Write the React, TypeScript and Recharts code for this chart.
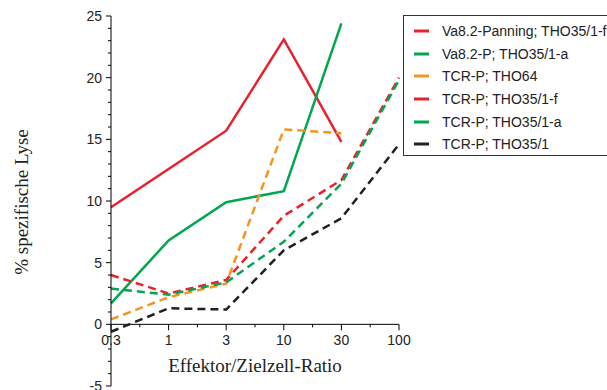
import React from 'react';
import { LineChart, Line, XAxis, YAxis, ReferenceLine, ReferenceDot } from 'recharts';

const categories = ['0.3', '1', '3', '10', '30', '100'];
const seriesNames = [
  'Va8.2-Panning; THO35/1-f',
  'Va8.2-P; THO35/1-a',
  'TCR-P; THO64',
  'TCR-P; THO35/1-f',
  'TCR-P; THO35/1-a',
  'TCR-P; THO35/1',
];
const vaPanningF = [9.5, 12.6, 15.7, 23.1, 14.8, null];
const vaPA = [1.7, 6.8, 9.9, 10.8, 24.4, null];
const tcrTho64 = [0.4, 2.2, 3.3, 15.8, 15.5, null];
const tcrF = [4.0, 2.5, 3.6, 8.8, 11.7, 20.0];
const tcrA = [2.9, 2.4, 3.4, 6.7, 11.4, 19.8];
const tcrTho35 = [-0.6, 1.3, 1.2, 6.0, 8.6, 14.6];
const yTicks = [-5, 0, 5, 10, 15, 20, 25];

const allSeries = [vaPanningF, vaPA, tcrTho64, tcrF, tcrA, tcrTho35];

// styling per series, same order as seriesNames
const styles = [
  { color: '#e8222b', dash: undefined },
  { color: '#00a650', dash: undefined },
  { color: '#f7941d', dash: '8 5' },
  { color: '#e8222b', dash: '8 5' },
  { color: '#00a650', dash: '8 5' },
  { color: '#231f20', dash: '8 5' },
];

const data = categories.map((c, i) => {
  const row: any = { i, cat: c };
  allSeries.forEach((s, k) => { row['s' + k] = s[i]; });
  return row;
});

const minorY: number[] = [];
for (let v = -5; v <= 25; v++) minorY.push(v);

const sans = '"Liberation Sans", Arial, sans-serif';
const serif = '"Liberation Serif", "Times New Roman", serif';

const YTick = (props: any) => {
  const { x, y, payload } = props;
  const major = yTicks.includes(payload.value);
  return (
    <g>
      <line x1={x - (major ? 5 : 3)} y1={y} x2={x} y2={y} stroke="#000" strokeWidth={1} />
      {major && (
        <text x={x - 9} y={y} dy={5} textAnchor="end" fontSize={14} fontFamily={sans} fill="#222">
          {payload.value}
        </text>
      )}
    </g>
  );
};

const xMajor = (label: string) => (p: any) => (
  <g>
    <line x1={p.cx} y1={p.cy} x2={p.cx} y2={p.cy + 6} stroke="#000" strokeWidth={1} />
    <text x={p.cx} y={p.cy + 21} textAnchor="middle" fontSize={14} fontFamily={sans} fill="#222">
      {label}
    </text>
  </g>
);

const xMinor = (p: any) => (
  <line x1={p.cx} y1={p.cy} x2={p.cx} y2={p.cy + 3} stroke="#000" strokeWidth={1} />
);

export default function App() {
  return (
    <div style={{ position: 'absolute', left: 0, top: 0, width: 607, height: 390, background: '#fff', overflow: 'hidden' }}>
      <LineChart width={607} height={390} data={data} margin={{ top: 16, right: 208, bottom: 4, left: 0 }}>
        <XAxis type="number" dataKey="i" domain={[0, 5]} hide />
        <YAxis
          type="number"
          domain={[-5, 25]}
          ticks={minorY}
          interval={0}
          width={111}
          tickLine={false}
          tickSize={0}
          tickMargin={0}
          axisLine={{ stroke: '#000' }}
          tick={<YTick />}
        />
        <ReferenceLine y={0} stroke="#000" strokeWidth={1} />
        {categories.map((c, i) => (
          <ReferenceDot key={'mj' + i} x={i} y={0} r={0} shape={xMajor(c)} />
        ))}
        {categories.slice(1).map((c, i) => (
          <ReferenceDot key={'mn' + i} x={i + 0.5} y={0} r={0} shape={xMinor} />
        ))}
        {styles.map((st, k) => (
          <Line
            key={k}
            type="linear"
            dataKey={'s' + k}
            name={seriesNames[k]}
            stroke={st.color}
            strokeWidth={2.5}
            strokeDasharray={st.dash}
            dot={false}
            isAnimationActive={false}
          />
        ))}
      </LineChart>
      <div
        style={{
          position: 'absolute', left: 22, top: 202, transform: 'translate(-50%, -50%) rotate(-90deg)',
          whiteSpace: 'nowrap', fontFamily: serif, fontSize: 19, color: '#222',
        }}
      >
        % spezifische Lyse
      </div>
      <div
        style={{
          position: 'absolute', left: 255, top: 366, transform: 'translate(-50%, -50%)',
          whiteSpace: 'nowrap', fontFamily: serif, fontSize: 19, color: '#222',
        }}
      >
        Effektor/Zielzell-Ratio
      </div>
      <div
        style={{
          position: 'absolute', left: 403, top: 15, width: 210, height: 141,
          border: '1px solid #333', boxSizing: 'border-box', fontFamily: sans, fontSize: 14, color: '#222',
          paddingTop: 4,
        }}
      >
        {seriesNames.map((n, k) => (
          <div key={k} style={{ display: 'flex', alignItems: 'center', height: 22.6 }}>
            <div style={{ width: 10 }} />
            <svg width={16} height={4} style={{ marginRight: 12 }}>
              <line x1={0} y1={2} x2={15} y2={2} stroke={styles[k].color} strokeWidth={3} />
            </svg>
            <span>{n}</span>
          </div>
        ))}
      </div>
    </div>
  );
}
